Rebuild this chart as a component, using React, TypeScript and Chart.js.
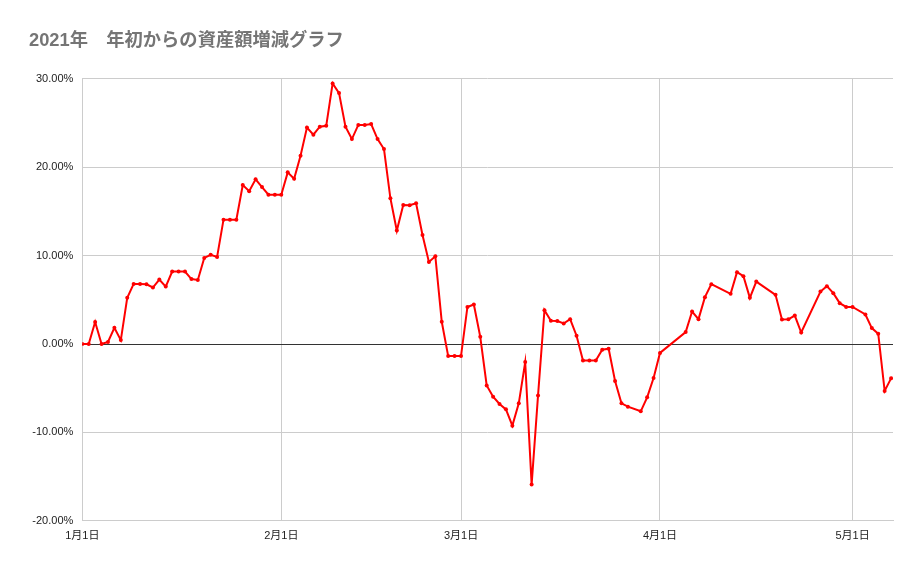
import React, { useEffect, useRef } from "react";
import { Chart, registerables } from "chart.js";

Chart.register(...registerables);

const titleText = "2021年　年初からの資産額増減グラフ";

// 月ごとの増減率（%）。null はデータなしの日
const janValues = [
  0, 0, 2.49, 0, 0.23, 1.85, 0.45, 5.23, 6.81, 6.81, 6.77, 6.4, 7.3, 6.5, 8.2, 8.2,
  8.2, 7.35, 7.25, 9.75, 10.1, 9.86, 14.08, 14.08, 14.08, 18.0, 17.3, 18.64, 17.77,
  16.9, 16.9,
];
const febValues = [
  16.9, 19.43, 18.7, 21.3, 24.5, 23.7, 24.6, 24.7, 29.5, 28.4, 24.6, 23.2, 24.8, 24.8,
  24.9, 23.2, 22.07, 16.5, 12.84, 15.74, 15.7, 15.93, 12.35, 9.3, 9.94, 2.52, -1.36,
  -1.36,
];
const marValues = [
  -1.36, 4.2, 4.48, 0.82, -4.68, -5.96, -6.78, -7.39, -9.23, -6.71, -2.04, -15.9,
  -5.81, 3.84, 2.63, 2.6, 2.33, 2.82, 0.94, -1.85, -1.85, -1.85, -0.64, -0.53, -4.18,
  -6.71, -7.08, null, -7.61, -6.03, -3.85,
];
const aprValues = [
  -1.0, null, null, null, 1.36, 3.68, 2.82, 5.31, 6.78, null, null, 5.68, 8.14, 7.68,
  5.23, 7.07, null, null, 5.57, 2.78, 2.8, 3.23, 1.31, null, null, 5.94, 6.55, 5.76,
  4.63, 4.2,
];
const mayValues = [4.2, null, 3.35, 1.81, 1.17, -5.3, -3.88];

const monthSeries = [janValues, febValues, marValues, aprValues, mayValues];
const monthStarts = [0, 31, 59, 90, 120];
const monthLabels = ["1月1日", "2月1日", "3月1日", "4月1日", "5月1日"];
const yTicks = [-20, -10, 0, 10, 20, 30];

const points: { x: number; y: number }[] = [];
monthSeries.forEach((values, m) => {
  values.forEach((v, i) => {
    if (v !== null) points.push({ x: monthStarts[m] + i, y: v });
  });
});

const App: React.FC = () => {
  const canvasRef = useRef<HTMLCanvasElement | null>(null);

  useEffect(() => {
    if (!canvasRef.current) return;
    const ctx = canvasRef.current.getContext("2d");
    if (!ctx) return;

    Chart.defaults.font.family = "'Liberation Sans', 'Noto Sans CJK JP', sans-serif";

    const chart = new Chart(ctx, {
      type: "line",
      data: {
        datasets: [
          {
            data: points,
            borderColor: "#ff0000",
            backgroundColor: "#ff0000",
            borderWidth: 2,
            pointRadius: 2,
            pointBorderWidth: 0,
            pointBackgroundColor: "#ff0000",
            tension: 0,
          },
        ],
      },
      options: {
        animation: false,
        responsive: false,
        layout: { padding: { left: 29, right: 28, top: 0, bottom: 17 } },
        plugins: {
          legend: { display: false },
          tooltip: { enabled: false },
          title: {
            display: true,
            text: titleText,
            align: "start",
            color: "#757575",
            font: { size: 18.3, weight: "bold" },
            padding: { top: 30, bottom: 27 },
          },
        },
        scales: {
          x: {
            type: "linear",
            min: 0,
            max: 126.3,
            afterBuildTicks: (scale: any) => {
              scale.ticks = monthStarts.map((v) => ({ value: v }));
            },
            ticks: {
              autoSkip: false,
              maxRotation: 0,
              padding: 9,
              color: "#222",
              font: { size: 11 },
              callback: (v: any) => {
                const i = monthStarts.indexOf(Number(v));
                return i >= 0 ? monthLabels[i] : "";
              },
            },
            grid: { color: "#cccccc", drawTicks: false },
            border: { color: "#cccccc" },
          },
          y: {
            min: -20,
            max: 30,
            afterBuildTicks: (scale: any) => {
              scale.ticks = yTicks.map((v) => ({ value: v }));
            },
            afterFit: (scale: any) => {
              scale.width = 53.3;
            },
            ticks: {
              padding: 9,
              color: "#222",
              font: { size: 11 },
              callback: (v: any) => Number(v).toFixed(2) + "%",
            },
            grid: {
              drawTicks: false,
              color: (c: any) => (c.tick && c.tick.value === 0 ? "#333333" : "#cccccc"),
            },
            border: { display: false },
          },
        },
      },
    });

    return () => {
      chart.destroy();
    };
  }, []);

  return (
    <div style={{ position: "fixed", left: 0, top: 0, width: 921, height: 569, background: "#fff" }}>
      <canvas ref={canvasRef} width={921} height={569}></canvas>
    </div>
  );
};

export default App;
